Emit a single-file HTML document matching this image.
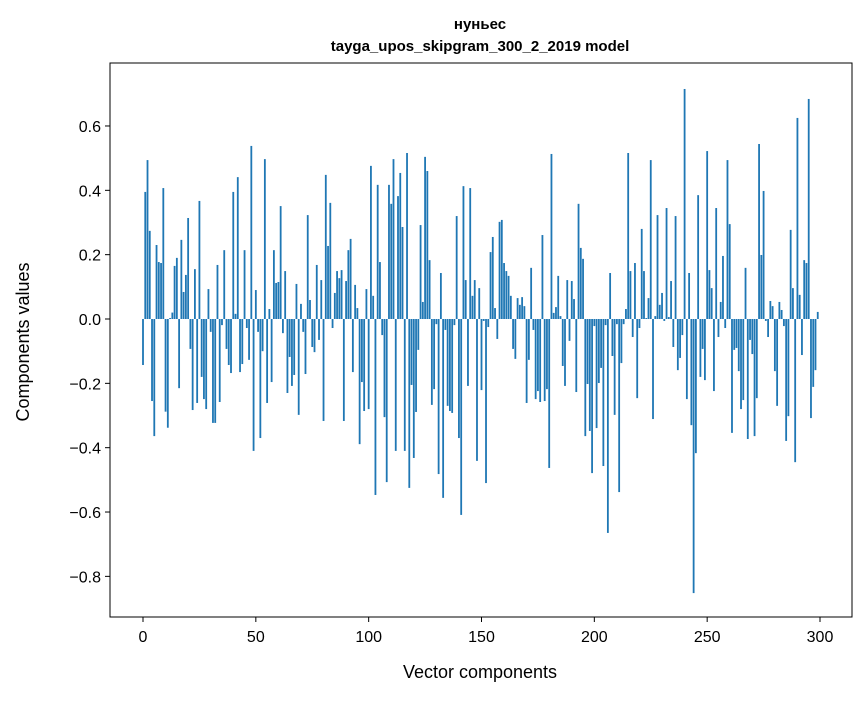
<!DOCTYPE html>
<html><head><meta charset="utf-8"><style>
body{margin:0;background:#fff;}
svg text{font-family:"Liberation Sans","DejaVu Sans",sans-serif;}
</style></head><body>
<svg id="chart" width="867" height="696">
<text x="480" y="29" text-anchor="middle" font-size="15" font-weight="bold">нуньес</text>
<text x="480" y="51" text-anchor="middle" font-size="15" font-weight="bold">tayga_upos_skipgram_300_2_2019 model</text>
<g id="bars"></g>
<rect x="110" y="63" width="742" height="554" fill="none" stroke="#000" stroke-width="1"/>
<g id="xaxis"></g>
<g id="yaxis"></g>
<text x="480" y="678" text-anchor="middle" font-size="18">Vector components</text>
<text x="0" y="0" transform="translate(29,342) rotate(-90)" text-anchor="middle" font-size="18">Components values</text>
</svg>
<script>
const values = [-0.143,0.395,0.494,0.274,-0.255,-0.364,0.23,0.177,0.174,0.407,-0.288,-0.338,0.003,0.02,0.165,0.19,-0.215,0.246,0.084,0.137,0.314,-0.093,-0.283,0.155,-0.261,0.367,-0.18,-0.249,-0.28,0.093,-0.04,-0.323,-0.323,0.168,-0.258,-0.019,0.214,-0.093,-0.143,-0.168,0.395,0.016,0.441,-0.165,-0.14,0.214,-0.028,-0.127,0.538,-0.41,0.09,-0.04,-0.37,-0.1,0.497,-0.261,0.031,-0.196,0.214,0.112,
0.115,0.351,-0.044,0.149,-0.23,-0.118,-0.208,-0.174,0.109,-0.298,0.047,-0.04,-0.171,0.323,0.059,-0.087,-0.103,0.168,-0.065,0.121,-0.317,0.448,0.227,0.361,-0.028,0.081,0.149,0.127,0.152,-0.317,0.118,0.214,0.249,-0.165,0.106,0.034,-0.389,-0.196,-0.286,0.093,-0.28,0.476,0.072,-0.547,0.417,0.177,-0.05,-0.305,-0.507,0.417,0.358,0.497,-0.41,0.382,0.454,0.286,-0.41,0.516,-0.525,-0.205,
-0.432,-0.289,-0.096,0.292,0.053,0.504,0.46,0.183,-0.267,-0.218,-0.016,-0.482,0.143,-0.556,-0.034,-0.27,-0.286,-0.292,-0.019,0.32,-0.37,-0.609,0.413,0.121,-0.208,0.407,0.072,0.121,-0.441,0.096,-0.221,-0.006,-0.51,-0.025,0.208,0.255,0.034,-0.062,0.302,0.308,0.174,0.149,0.134,0.072,-0.093,-0.124,0.065,0.044,0.068,0.04,-0.261,-0.127,0.159,-0.034,-0.249,-0.224,-0.258,0.261,-0.255,-0.218,
-0.463,0.513,0.019,0.037,0.134,0.009,-0.146,-0.208,0.121,-0.068,0.118,0.062,-0.227,0.358,0.221,0.187,-0.364,-0.202,-0.348,-0.479,-0.022,-0.339,-0.199,-0.152,-0.457,-0.019,-0.665,0.143,-0.115,-0.298,-0.016,-0.538,-0.137,-0.016,0.031,0.516,0.149,-0.056,0.174,-0.246,-0.028,0.28,0.149,0.003,0.065,0.494,-0.311,0.009,0.323,0.044,0.081,-0.006,0.345,0.006,0.118,-0.087,0.32,-0.159,-0.121,-0.05,
0.715,-0.249,0.143,-0.33,-0.852,-0.417,0.385,-0.18,-0.093,-0.19,0.522,0.152,0.096,-0.224,0.345,-0.056,0.053,0.196,-0.028,0.494,0.295,-0.354,-0.096,-0.09,-0.162,-0.28,-0.252,0.159,-0.373,-0.065,-0.109,-0.364,-0.246,0.544,0.199,0.398,-0.006,-0.056,0.056,0.04,-0.162,-0.27,0.053,0.028,-0.022,-0.379,-0.302,0.277,0.096,-0.445,0.625,0.075,-0.112,0.183,0.174,0.684,-0.308,-0.211,-0.159,0.022];
const xTicks = [0,50,100,150,200,250,300];
const yTicks = [-0.8,-0.6,-0.4,-0.2,0.0,0.2,0.4,0.6];
const NS="http://www.w3.org/2000/svg";
function xs(v){return 143+v*(820-143)/300;}
function ys(v){return 319-v*321.7;}
const bars=document.getElementById('bars');
values.forEach((v,i)=>{
  const r=document.createElementNS(NS,'rect');
  const w=xs(0.8)-xs(0);
  r.setAttribute('x',xs(i)-w/2);
  r.setAttribute('width',w);
  r.setAttribute('y',Math.min(ys(v),ys(0)));
  r.setAttribute('height',Math.abs(ys(v)-ys(0)));
  r.setAttribute('fill','#1f77b4');
  
  
  bars.appendChild(r);
});
const xa=document.getElementById('xaxis');
xTicks.forEach(t=>{
  const l=document.createElementNS(NS,'line');
  l.setAttribute('x1',xs(t));l.setAttribute('x2',xs(t));l.setAttribute('y1',617);l.setAttribute('y2',622);l.setAttribute('stroke','#000');
  
  
  xa.appendChild(l);
  const tx=document.createElementNS(NS,'text');
  tx.setAttribute('x',xs(t));tx.setAttribute('y',642);tx.setAttribute('text-anchor','middle');tx.setAttribute('font-size','16');
  tx.textContent=t;
  
  
  xa.appendChild(tx);
});
const ya=document.getElementById('yaxis');
yTicks.forEach(t=>{
  const l=document.createElementNS(NS,'line');
  l.setAttribute('x1',105);l.setAttribute('x2',110);l.setAttribute('y1',ys(t));l.setAttribute('y2',ys(t));l.setAttribute('stroke','#000');
  
  
  ya.appendChild(l);
  const tx=document.createElementNS(NS,'text');
  tx.setAttribute('x',101);tx.setAttribute('y',ys(t)+6);tx.setAttribute('text-anchor','end');tx.setAttribute('font-size','16');
  tx.textContent=(t<0?'\u2212':'')+Math.abs(t).toFixed(1);
  
  
  ya.appendChild(tx);
});
</script>
</body></html>
